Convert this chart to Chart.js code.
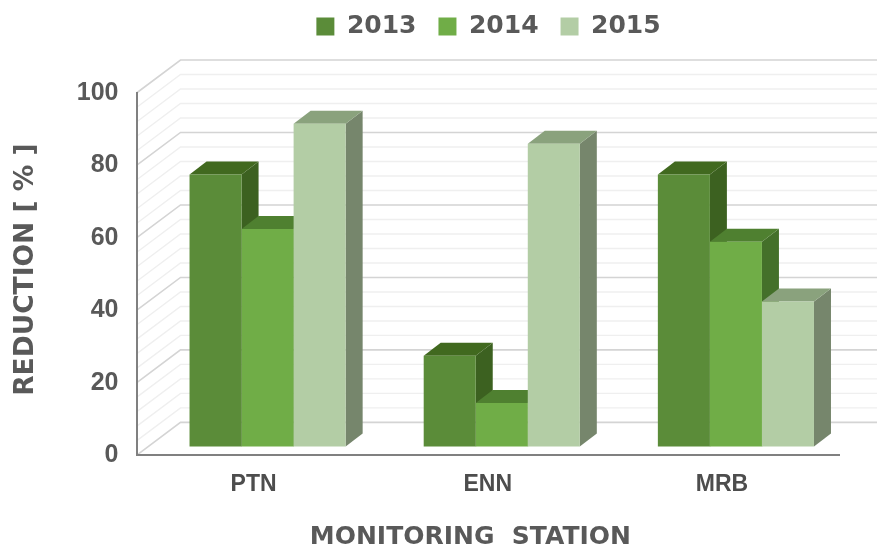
<!DOCTYPE html>
<html lang="en">
  <head>
    <meta charset="UTF-8" />
    <script src="https://cdn.jsdelivr.net/npm/chart.js@4/dist/chart.umd.min.js"></script>
    <style>
      html, body { margin: 0; padding: 0; background: #fff; }
      #chart-container { width: 877px; height: 552px; }
    </style>
    <title>Reduction by monitoring station</title>
  </head>
  <body>
    <div id="chart-container">
      <canvas id="chart"></canvas>
    </div>
    <script>
      const stations = ["PTN", "ENN", "MRB"];
      const years = ["2013", "2014", "2015"];
      const values2013 = [75, 25, 75];
      const values2014 = [60, 12, 56.5];
      const values2015 = [89, 83.5, 40];
      const yTicks = [0, 20, 40, 60, 80, 100];
      const gridValues = [0, 4, 8, 12, 16, 20, 24, 28, 32, 36, 40, 44, 48, 52, 56, 60, 64, 68, 72, 76, 80, 84, 88, 92, 96, 100];

      // front, side, top colours for each year
      const faces = [
        { front: "#5b8c39", side: "#3c6120", top: "#41691f" },
        { front: "#70ad47", side: "#44702a", top: "#4f8030" },
        { front: "#b3cda5", side: "#76866c", top: "#8aa27d" },
      ];

      // depth of the box the chart sits in, and how far back the bars stand
      const wallDx = 44, wallDy = 33;
      const barShiftX = 14, barShiftY = 9;
      const barDx = 17, barDy = 13;
      const legendShift = 64;

      const poly = (ctx, pts, color) => {
        ctx.fillStyle = color;
        ctx.beginPath();
        pts.forEach((p, i) => (i ? ctx.lineTo(p[0], p[1]) : ctx.moveTo(p[0], p[1])));
        ctx.closePath();
        ctx.fill();
      };

      const fake3d = {
        id: "fake3d",
        beforeInit(chart) {
          // room between the legend and the plot
          const fit = chart.legend.fit;
          chart.legend.fit = function () {
            fit.call(this);
            this.height += 44;
          };
        },
        afterLayout(chart) {
          chart.legend.left += legendShift;
          chart.legend.right += legendShift;
        },
        beforeDraw(chart) {
          const { ctx, chartArea, scales } = chart;
          ctx.save();
          gridValues.forEach((v) => {
            const y = scales.y.getPixelForValue(v);
            ctx.strokeStyle = v % 20 === 0 ? "#d4d4d4" : "#efefef";
            ctx.lineWidth = v % 20 === 0 ? 1.6 : 1.4;
            ctx.beginPath();
            ctx.moveTo(chartArea.left, y);
            ctx.lineTo(chartArea.left + wallDx, y - wallDy);
            ctx.lineTo(chart.width, y - wallDy);
            ctx.stroke();
          });
          ctx.restore();
        },
        beforeDatasetsDraw(chart) {
          const { ctx } = chart;
          // sides and tops go first, the library's bars are the front faces
          ctx.save();
          ctx.translate(barShiftX, -barShiftY);
          years.forEach((year, i) => {
            chart.getDatasetMeta(i).data.forEach((bar) => {
              const { x, y, base, width } = bar.getProps(["x", "y", "base", "width"], true);
              const r = x + width / 2, l = x - width / 2;
              poly(ctx, [[r, y], [r + barDx, y - barDy], [r + barDx, base - barDy], [r, base]], faces[i].side);
              poly(ctx, [[l, y], [l + barDx, y - barDy], [r + barDx, y - barDy], [r, y]], faces[i].top);
            });
          });
        },
        afterDatasetsDraw(chart) {
          chart.ctx.restore();
        },
      };

      const config = {
        type: "bar",
        data: {
          labels: stations,
          datasets: [values2013, values2014, values2015].map((data, i) => ({
            label: years[i],
            data,
            backgroundColor: faces[i].front,
            clip: false,
            barPercentage: 1,
            categoryPercentage: 0.6667,
          })),
        },
        options: {
          responsive: false,
          animation: false,
          layout: { padding: { top: -8, right: 38, left: 10, bottom: 0 } },
          plugins: {
            tooltip: { enabled: false },
            legend: {
              position: "top",
              labels: {
                color: "#595959",
                boxWidth: 18,
                boxHeight: 18,
                padding: 22,
                font: { family: "DejaVu Sans", size: 25, weight: "bold" },
              },
            },
          },
          scales: {
            x: {
              grid: { display: false },
              border: { color: "#808080", width: 2 },
              ticks: { color: "#4d4d4d", padding: 7, font: { family: "Liberation Sans", size: 23, weight: "bold" } },
              title: {
                display: true,
                // trailing spaces pull the centred title left of the plot centre
                text: "MONITORING  STATION    ",
                color: "#595959",
                padding: { top: 17, bottom: 0 },
                font: { family: "DejaVu Sans", size: 25, weight: "bold" },
              },
            },
            y: {
              min: 0,
              max: 100,
              afterBuildTicks: (axis) => { axis.ticks = yTicks.map((value) => ({ value })); },
              grid: { display: false },
              border: { color: "#808080", width: 2 },
              ticks: { color: "#595959", padding: 10, font: { family: "Liberation Sans", size: 25, weight: "bold" } },
              title: {
                display: true,
                text: " REDUCTION [ % ]",
                color: "#595959",
                padding: { top: 0, bottom: 25 },
                font: { family: "DejaVu Sans", size: 26.5, weight: "bold" },
              },
            },
          },
        },
        plugins: [fake3d],
      };

      const canvas = document.getElementById("chart");
      canvas.width = 877;
      canvas.height = 552;
      const chart = new Chart(canvas, config);
    </script>
  </body>
</html>
